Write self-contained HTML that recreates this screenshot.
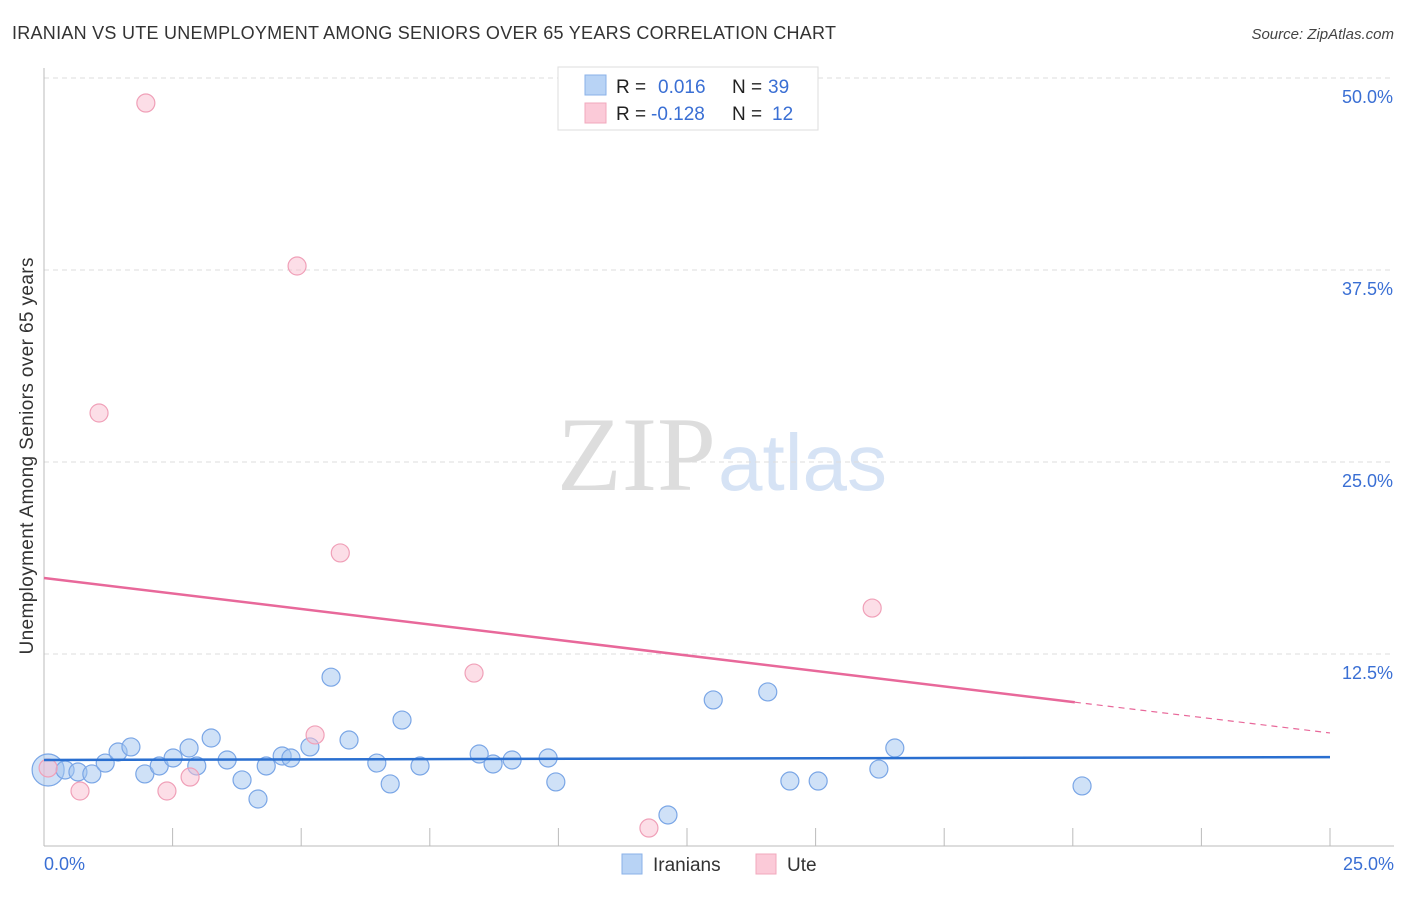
<!DOCTYPE html>
<html><head><meta charset="utf-8"><style>
body{margin:0;background:#fff;font-family:"Liberation Sans",sans-serif;}
svg text{font-family:"Liberation Sans",sans-serif;}
</style></head><body>
<svg id="chart" width="1406" height="892" viewBox="0 0 1406 892" xmlns="http://www.w3.org/2000/svg">
<text x="12" y="39" font-size="18" fill="#333" textLength="824">IRANIAN VS UTE UNEMPLOYMENT AMONG SENIORS OVER 65 YEARS CORRELATION CHART</text>
<text x="1394" y="39" font-size="15" fill="#444" font-style="italic" text-anchor="end">Source: ZipAtlas.com</text>
<text x="716" y="490" font-size="106" fill="#ddd" text-anchor="end" style="font-family:'Liberation Serif',serif">ZIP</text>
<text x="718" y="490" font-size="80" fill="#d6e3f5">atlas</text>
<g id="grid"></g>
<g id="axes"></g>
<g id="marks"></g>
<text transform="translate(33,456) rotate(-90)" font-size="19" fill="#333" text-anchor="middle" textLength="397">Unemployment Among Seniors over 65 years</text>
<g>
<rect x="558" y="67" width="260" height="63" fill="#fff" stroke="#ddd"/>
<rect x="585" y="75" width="21" height="20" fill="#b8d3f5" stroke="#8ab1e8"/>
<rect x="585" y="103" width="21" height="20" fill="#fbcad8" stroke="#f2a8bd"/>
<text x="616" y="93" font-size="19" fill="#222">R = <tspan x="658" fill="#3a6fd4">0.016</tspan><tspan x="732" fill="#222">N = </tspan><tspan x="768" fill="#3a6fd4">39</tspan></text>
<text x="616" y="120" font-size="19" fill="#222">R = <tspan x="651" fill="#3a6fd4">-0.128</tspan><tspan x="732" fill="#222">N = </tspan><tspan x="772" fill="#3a6fd4">12</tspan></text>
</g>
<g>
<rect x="622" y="854" width="20" height="20" fill="#b8d3f5" stroke="#8ab1e8"/>
<text x="653" y="871" font-size="19" fill="#333">Iranians</text>
<rect x="756" y="854" width="20" height="20" fill="#fbcad8" stroke="#f2a8bd"/>
<text x="787" y="871" font-size="19" fill="#333">Ute</text>
</g>
</svg>
<script>
const yTicks=[12.5,25,37.5,50];
const yTickLabels=["12.5%","25.0%","37.5%","50.0%"];
const xTickLabels=["0.0%","25.0%"];
const iraniansX=[0.08,0.41,0.66,0.93,1.19,1.44,1.69,1.96,2.24,2.51,2.82,2.97,3.25,3.56,3.85,4.16,4.32,4.63,4.80,5.17,5.58,5.93,6.47,6.73,6.96,7.31,8.46,8.73,9.10,9.80,9.95,12.13,13.01,14.07,14.50,15.05,16.23,16.54,20.18];
const iraniansY=[4.95,4.95,4.82,4.69,5.40,6.12,6.45,4.69,5.21,5.73,6.38,5.21,7.03,5.60,4.30,3.06,5.21,5.86,5.73,6.45,10.99,6.90,5.40,4.04,8.20,5.21,5.99,5.34,5.60,5.73,4.17,2.02,9.51,10.03,4.23,4.23,5.01,6.38,3.91];
const uteX=[0.08,0.70,1.07,1.98,2.39,2.84,4.92,5.27,5.76,8.36,11.76,16.10];
const uteY=[5.08,3.58,28.19,48.37,3.58,4.49,37.76,7.23,19.08,11.26,1.17,15.49];
const iraniansTrend=[5.6,5.79];
const uteTrend=[17.45,7.36];
const uteSolidEnd=20.04;
const NS="http://www.w3.org/2000/svg";
const sx=v=>44+v*51.44, sy=v=>846-v*15.36;
function mk(tag,attrs,parent){const e=document.createElementNS(NS,tag);for(const k in attrs)e.setAttribute(k,attrs[k]);document.getElementById(parent).appendChild(e);return e;}
yTicks.forEach((t,i)=>{
 const g=mk('line',{x1:44,x2:1394,y1:sy(t),y2:sy(t),stroke:'#ddd','stroke-dasharray':'5,4'},'grid');
 
 
 const l=mk('text',{x:1393,y:sy(t)+25,'font-size':18,fill:'#3a6fd4','text-anchor':'end'},'grid');
 l.textContent=yTickLabels[i];
 
 
});
const ax=mk('line',{x1:44,x2:44,y1:68,y2:846,stroke:'#bbb'},'axes');


const bx=mk('line',{x1:44,x2:1394,y1:846,y2:846,stroke:'#bbb'},'axes');


for(let i=1;i<=10;i++){const t=mk('line',{x1:sx(i*2.5),x2:sx(i*2.5),y1:828,y2:846,stroke:'#bbb'},'axes');
 
 }
[[0,44,'start'],[25,1394,'end']].forEach((d,i)=>{const t=mk('text',{x:d[1],y:870,'font-size':18,fill:'#3a6fd4','text-anchor':d[2]},'axes');t.textContent=xTickLabels[i];
 
 });
iraniansX.forEach((x,i)=>{const c=mk('circle',{cx:sx(x),cy:sy(iraniansY[i]),r:i===0?16:9,fill:'rgba(160,196,240,0.5)',stroke:'#7aa6e6','stroke-width':1.2},'marks');
 
 });
uteX.forEach((x,i)=>{const c=mk('circle',{cx:sx(x),cy:sy(uteY[i]),r:9,fill:'rgba(250,190,208,0.5)',stroke:'#f0a0b8','stroke-width':1.2},'marks');
 
 });
const bl=mk('line',{x1:sx(0),x2:sx(25),y1:sy(iraniansTrend[0]),y2:sy(iraniansTrend[1]),stroke:'#2a6fd0','stroke-width':2.5},'marks');


const um=uteTrend[0]+(uteTrend[1]-uteTrend[0])*uteSolidEnd/25;
const pl=mk('line',{x1:sx(0),x2:sx(uteSolidEnd),y1:sy(uteTrend[0]),y2:sy(um),stroke:'#e8689a','stroke-width':2.5},'marks');


const pd=mk('line',{x1:sx(uteSolidEnd),x2:sx(25),y1:sy(um),y2:sy(uteTrend[1]),stroke:'#e8689a','stroke-width':1.2,'stroke-dasharray':'6,5'},'marks');


</script>
</body></html>
